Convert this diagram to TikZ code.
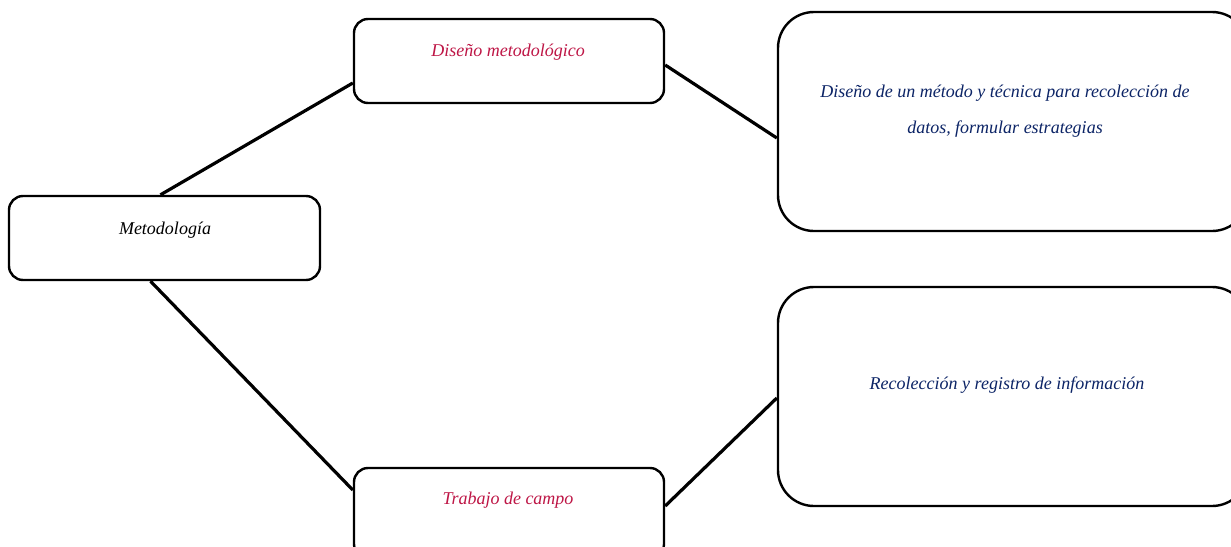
\documentclass[tikz,border=0pt]{standalone}
\usepackage{fontspec}
\setmainfont{Liberation Serif}
\usetikzlibrary{calc}
\definecolor{crim}{RGB}{190,22,70}
\definecolor{navy}{RGB}{12,36,102}
\begin{document}
\begin{tikzpicture}[x=1pt,y=-1pt,
  box/.style={draw=black,line width=2.4pt,fill=white,rounded corners=14pt,inner sep=0pt},
  bigbox/.style={box,rounded corners=36pt},
  lbl/.style={font=\fontsize{18}{22}\selectfont\itshape,inner sep=0pt,align=center},
  link/.style={line width=3.2pt,black}]
\useasboundingbox (0,0) rectangle (1231,546);
\clip (0,0) rectangle (1231,546);
% connectors (drawn first, boxes cover the ends)
\path (164.5,238) node[box,minimum width=311pt,minimum height=84pt] (met) {};
\path (509,61) node[box,minimum width=310pt,minimum height=84pt] (dis) {};
\path (509,513) node[box,minimum width=310pt,minimum height=90pt] (tra) {};
\path (1013,121.5) node[bigbox,minimum width=470pt,minimum height=219pt] (r1) {};
\path (1013,396.5) node[bigbox,minimum width=470pt,minimum height=219pt] (r2) {};
\draw[link] ([xshift=-4pt]met.north) -- ([yshift=-22pt]dis.west);
\draw[link] ([xshift=-14pt]met.south) -- ([yshift=23pt]tra.west);
\draw[link] ([yshift=-4pt]dis.east) -- ([yshift=-16.5pt]r1.west);
\draw[link] ([yshift=7pt]tra.east) -- ([yshift=-1.5pt]r2.west);
% texts
\node[lbl,text=black] (tmet) at (165,230) {Metodología};
\node[lbl,text=crim] (tdis) at (508,52) {Diseño metodológico};
\node[lbl,text=crim] (ttra) at (508,500) {Trabajo de campo};
\node[lbl,text=navy] (tr1) at (1005,111) {Diseño de un método y técnica para recolección de\\[14pt]datos, formular estrategias};
\node[lbl,text=navy] (tr2) at (1007,385) {Recolección y registro de información};
\end{tikzpicture}
\end{document}
